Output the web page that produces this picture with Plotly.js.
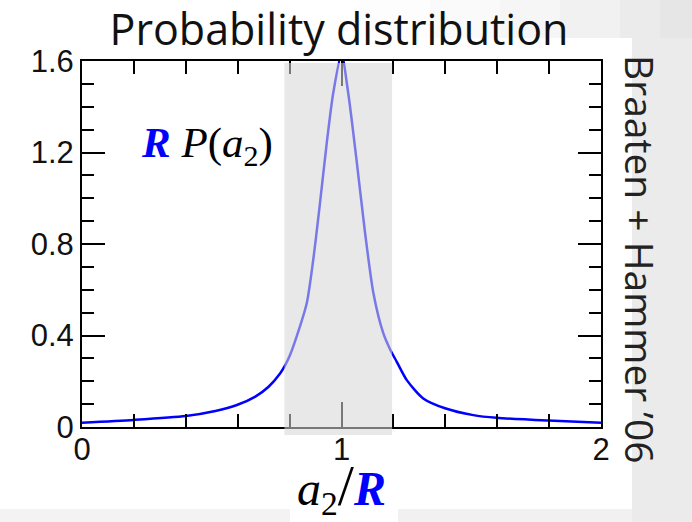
<!DOCTYPE html>
<html>
<head>
<meta charset="utf-8">
<script src="https://cdn.plot.ly/plotly-3.0.1.min.js"></script>
<style>html,body{margin:0;padding:0;background:#fff;}#chart{width:692px;height:522px;}</style>
</head>
<body>
<div id="chart"></div>
<script>
// Curve: x = a2/R, y = R P(a2)
const ratio = [0, 0.2, 0.4, 0.514, 0.597, 0.668, 0.719, 0.764, 0.782, 0.8, 0.827, 0.866, 0.891, 0.917, 0.943, 0.968, 1.0, 1.026, 1.058, 1.091, 1.123, 1.161, 1.187, 1.213, 1.251, 1.315, 1.399, 1.508, 1.598, 1.797, 2.0];
const prob  = [0.019, 0.031, 0.048, 0.070, 0.096, 0.133, 0.176, 0.235, 0.268, 0.31, 0.395, 0.541, 0.73, 0.978, 1.24, 1.459, 1.63, 1.459, 1.167, 0.847, 0.585, 0.41, 0.34, 0.285, 0.206, 0.125, 0.082, 0.052, 0.040, 0.028, 0.019];
const band = [0.78, 1.195];
const xTicks = [0, 1, 2];
const yTicks = [0, 0.4, 0.8, 1.2, 1.6];
const titleText = 'Probability distribution';
const sideNote = 'Braaten + Hammer \u201906';

// pixel -> plot-area paper fraction helpers (plot area: x 82..601, y 61..427)
const PX = p => (p - 82) / 519;
const PY = p => (427 - p) / 366;

const shapes = [];
function bg(x0, x1, y0, y1, c){
  shapes.push({type:'rect', xref:'paper', yref:'paper', x0:PX(x0), x1:PX(x1), y0:PY(y1), y1:PY(y0), fillcolor:c, line:{width:0}, layer:'below'});
}
// slide-like background decorations
const steps = [[360,'#fdfdfd'],[430,'#fafafa'],[500,'#f6f6f6'],[560,'#f1f1f1'],[620,'#ebebeb'],[660,'#e6e6e6']];
steps.forEach((s,i)=>{
  const x1 = i < steps.length-1 ? steps[i+1][0] : 692;
  bg(s[0], x1, 0, 38, s[1]);
});
bg(632, 692, 38, 522, '#ebebeb');
bg(0, 290, 509, 522, '#f3f3f3');
bg(398, 632, 509, 522, '#f1f1f1');
// highlighted band (semi-transparent overlay)
shapes.push({type:'rect', xref:'x', yref:'paper', x0:band[0], x1:band[1], y0:PY(435), y1:PY(63), fillcolor:'rgba(214,214,214,0.56)', line:{width:0}, layer:'above'});

const data = [{
  x: ratio, y: prob, type:'scatter', mode:'lines',
  line:{color:'#0000ff', width:2.5, shape:'spline', smoothing:0.7},
  hoverinfo:'skip', showlegend:false
}];

const axisCommon = {
  showline:true, linecolor:'#000', linewidth:2, mirror:'allticks',
  ticks:'inside', tickwidth:2, tickcolor:'#000', showgrid:false, zeroline:false,
  tickfont:{family:'Liberation Sans, Arial, sans-serif', size:31, color:'#111'},
  fixedrange:true
};

const layout = {
  width:692, height:522,
  margin:{l:82, r:91, t:61, b:95},
  paper_bgcolor:'#ffffff', plot_bgcolor:'#ffffff',
  title:{text:titleText, x:339/692, xanchor:'center', y:1-30/522, yanchor:'middle',
         font:{family:'Open Sans, Noto Sans, sans-serif', size:43, color:'#111'}},
  xaxis:Object.assign({}, axisCommon, {
    range:[0,2], tickvals:xTicks, ticklen:25, ticklabelstandoff:-6,
    minor:{dtick:0.2, ticklen:13, tickwidth:2, tickcolor:'#000', ticks:'inside', showgrid:false},
    title:{text:'<i>a</i><sub>2</sub><span style="font-size:58px">/</span><span style="color:#0000ff"><b><i>R</i></b></span>',
           font:{family:'Liberation Serif, Times New Roman, serif', size:48, color:'#000'}, standoff:5}
  }),
  yaxis:Object.assign({}, axisCommon, {
    range:[0,1.6], tickvals:yTicks, ticklen:23,
    minor:{dtick:0.1, ticklen:12, tickwidth:2, tickcolor:'#000', ticks:'inside', showgrid:false}
  }),
  shapes: shapes,
  annotations:[
    {text:'<span style="color:#0000ff"><b><i>R</i></b></span> <i>P</i>(<i>a</i><sub>2</sub>)',
     xref:'paper', yref:'paper', x:PX(139), y:PY(146), xanchor:'left', yanchor:'middle',
     showarrow:false, font:{family:'Liberation Serif, Times New Roman, serif', size:43, color:'#000'}},
    {text:sideNote, textangle:90, xref:'paper', yref:'paper',
     x:PX(641), y:PY(259), xanchor:'center', yanchor:'middle', showarrow:false,
     font:{family:'Open Sans, Noto Sans, sans-serif', size:39, color:'#222'}}
  ]
};

Plotly.newPlot('chart', data, layout, {displayModeBar:false, staticPlot:true});
</script>
</body>
</html>
